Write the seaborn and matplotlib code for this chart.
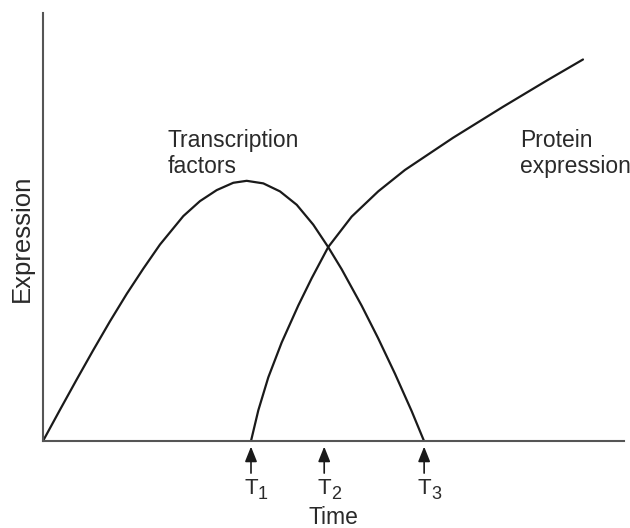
import matplotlib
matplotlib.use('Agg')
import matplotlib.pyplot as plt
import seaborn as sns
import pandas as pd

# values (time and expression both on a 0-100 scale)
tf_time = [0, 2.93, 5.80, 8.61, 11.53, 14.41, 17.26, 20.14, 24.15, 27.02, 29.90, 32.75,
           35.06, 37.92, 40.79, 43.67, 46.52, 49.10, 51.41, 54.85, 57.66, 60.58, 63.46, 65.58]
tf_expr = [0, 7.31, 14.37, 21.14, 27.97, 34.37, 40.26, 45.91, 52.55, 56.05, 58.62, 60.33,
           60.79, 60.19, 58.32, 55.19, 50.54, 45.28, 40.12, 31.61, 24.07, 15.72, 6.96, 0]

prot_time = [35.8, 37.06, 38.78, 41.08, 43.94, 46.25, 49.10, 53.13, 57.71, 62.31,
             70.57, 79.17, 86.75, 92.94]
prot_expr = [0, 7.17, 14.88, 23.01, 31.66, 38.04, 45.33, 52.43, 58.34, 63.34,
             70.84, 78.08, 84.25, 89.14]

marker_times = [35.8, 48.4, 65.6]
marker_subs = ['1', '2', '3']

sns.set_theme(style='white')
plt.rcParams['font.family'] = ['Liberation Sans', 'DejaVu Sans']

tf_df = pd.DataFrame({'Time': tf_time, 'Expression': tf_expr})
prot_df = pd.DataFrame({'Time': prot_time, 'Expression': prot_expr})

fig = plt.figure(figsize=(6.3, 5.28), dpi=100)
ax = fig.add_axes([43 / 630, 87 / 528, 581 / 630, 428 / 528])

sns.lineplot(data=tf_df, x='Time', y='Expression', sort=False, ax=ax,
             color='#1a1a1a', linewidth=1.6)
sns.lineplot(data=prot_df, x='Time', y='Expression', sort=False, ax=ax,
             color='#1a1a1a', linewidth=1.6)

ax.set_xlim(0, 100)
ax.set_ylim(0, 100)
ax.set_xticks([])
ax.set_yticks([])
ax.set_xlabel('')
ax.set_ylabel('')
for side in ['top', 'right']:
    ax.spines[side].set_visible(False)
for side in ['left', 'bottom']:
    ax.spines[side].set_color('#555555')
    ax.spines[side].set_linewidth(1.5)

txt_col = '#2a2a2a'

# curve labels
ax.text(21.5, 72.8, 'Transcription\nfactors', fontsize=16.5, color=txt_col,
        ha='left', va='top', linespacing=1.12)
ax.text(82.1, 72.8, 'Protein\nexpression', fontsize=16.5, color=txt_col,
        ha='left', va='top', linespacing=1.12)

# time markers below the axis
for t, sub in zip(marker_times, marker_subs):
    ax.annotate('', xy=(t, -1.3), xytext=(t, -7.5), annotation_clip=False,
                arrowprops=dict(arrowstyle='-|>,head_length=0.7,head_width=0.28',
                                color='#1a1a1a', lw=1.2, mutation_scale=13,
                                shrinkA=0, shrinkB=0))
    ax.text(t, -11.2, 'T', fontsize=16, color=txt_col,
            ha='center', va='center', clip_on=False)
    ax.text(t + 1.2, -12.5, sub, fontsize=13, color=txt_col,
            ha='left', va='center', clip_on=False)

fig.text(333 / 630, 10 / 528, 'Time', fontsize=16.5, color=txt_col,
         ha='center', va='center')
fig.text(22 / 630, 290 / 528, 'Expression', fontsize=18.5, color=txt_col,
         ha='center', va='center', rotation=90)

fig.savefig('out.png', dpi=100)
